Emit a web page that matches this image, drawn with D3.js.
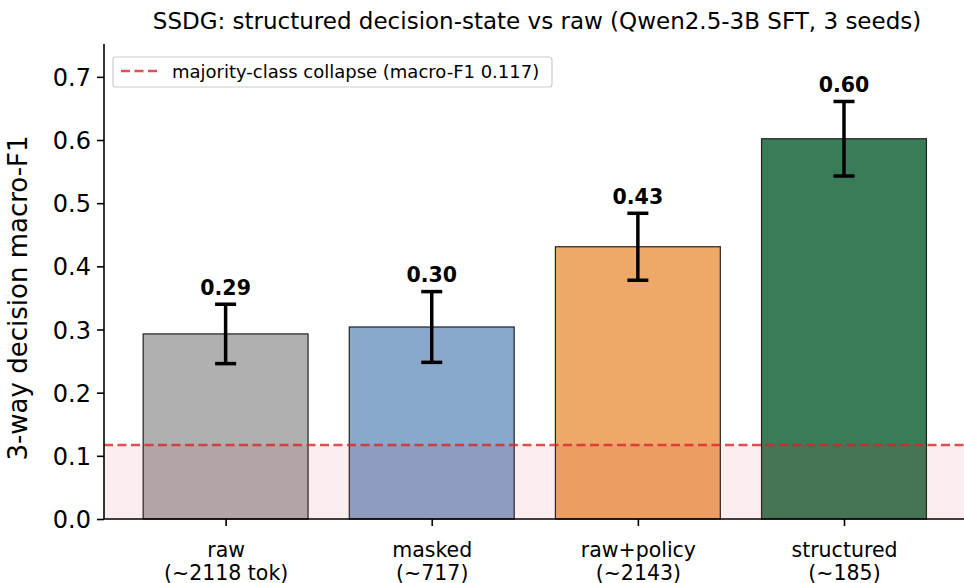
<!DOCTYPE html>
<html><head><meta charset="utf-8">
<script src="https://cdn.jsdelivr.net/npm/d3@7"></script>
<style>body{margin:0;background:#fff}svg{display:block;font-family:"DejaVu Sans",sans-serif}</style>
</head><body><svg id="c" width="964" height="583"></svg>
<script>
const categories = ["raw\n(~2118 tok)", "masked\n(~717)", "raw+policy\n(~2143)", "structured\n(~185)"];
const means = [0.293, 0.304, 0.431, 0.602];
const errs = [0.047, 0.056, 0.053, 0.059];
const barLabels = ["0.29", "0.30", "0.43", "0.60"];
const colors = ["#b0b0b0", "#88a8cc", "#eea968", "#3a7b58"];
const yTicks = [0, 0.1, 0.2, 0.3, 0.4, 0.5, 0.6, 0.7];
const collapse = 0.117;
const legendText = "majority-class collapse (macro-F1 0.117)";
const titleText = "SSDG: structured decision-state vs raw (Qwen2.5-3B SFT, 3 seeds)";
const yLabel = "3-way decision macro-F1";

const svg = d3.select("#c");
const L = 104, R = 965.6, T = 44, B = 519;
const x = d3.scaleLinear().domain([-0.59, 3.59]).range([L, R]);
const y = d3.scaleLinear().domain([0, 0.752]).range([B, T]);
const bw = x(0.4) - x(-0.4);

const g = svg.append("g");
// bars
g.selectAll("rect.bar").data(means).join("rect")
  .attr("x", (d,i) => x(i) - bw/2).attr("y", d => y(d))
  .attr("width", bw).attr("height", d => y(0) - y(d))
  .attr("fill", (d,i) => colors[i]).attr("stroke", "#222").attr("stroke-width", 1.2);
// shaded region
g.append("rect").attr("x", L).attr("y", y(collapse)).attr("width", R - L).attr("height", y(0) - y(collapse))
  .attr("fill", "#d62728").attr("fill-opacity", 0.08);
// threshold
g.append("line").attr("x1", L).attr("x2", R).attr("y1", y(collapse)).attr("y2", y(collapse))
  .attr("stroke", "#d62728").attr("stroke-opacity", 0.8).attr("stroke-width", 2.5).attr("stroke-dasharray", "9,4.5");
// error bars
const eb = g.selectAll("g.err").data(means).join("g");
eb.append("line").attr("x1", (d,i)=>x(i)).attr("x2",(d,i)=>x(i))
  .attr("y1",(d,i)=>y(d+errs[i])).attr("y2",(d,i)=>y(d-errs[i])).attr("stroke","#000").attr("stroke-width",3.5);
[1,-1].forEach(s => eb.append("line").attr("x1",(d,i)=>x(i)-10.5).attr("x2",(d,i)=>x(i)+10.5)
  .attr("y1",(d,i)=>y(d+s*errs[i])).attr("y2",(d,i)=>y(d+s*errs[i])).attr("stroke","#000").attr("stroke-width",3.5));
// value labels
g.selectAll("text.v").data(means).join("text")
  .attr("x",(d,i)=>x(i)).attr("y",(d,i)=>y(d+errs[i])-9.5)
  .attr("text-anchor","middle").attr("font-weight","bold").attr("font-size",20.5)
  .text((d,i)=>barLabels[i]);

// axes
const ya = svg.append("g").attr("transform",`translate(${L},0)`)
  .call(d3.axisLeft(y).tickValues(yTicks).tickFormat(d3.format(".1f")).tickSize(7).tickPadding(6));
ya.select(".domain").attr("stroke-width",1.6).attr("d",`M0,${T}V${B}`);
ya.selectAll(".tick line").attr("stroke-width",1.6);
ya.selectAll("text").attr("font-size",24).attr("font-family","DejaVu Sans").attr("dy","0.36em");

const xa = svg.append("g").attr("transform",`translate(0,${B})`)
  .call(d3.axisBottom(x).tickValues([0,1,2,3]).tickFormat("").tickSize(7));
xa.select(".domain").attr("stroke-width",1.6).attr("d",`M${L},0H${R}`);
xa.selectAll(".tick line").attr("stroke-width",1.6);
xa.selectAll(".tick").append("text").attr("fill","#000").attr("text-anchor","middle")
  .attr("font-size",20.5).attr("font-family","DejaVu Sans")
  .each(function(d){ const lines = categories[d].split("\n"); const t=d3.select(this);
    lines.forEach((ln,k)=>t.append("tspan").attr("x",0).attr("y",38+k*23).text(ln)); });

// y label
svg.append("text").attr("transform",`translate(27,298) rotate(-90)`)
  .attr("text-anchor","middle").attr("font-size",26).text(yLabel);
// title
svg.append("text").attr("x",537).attr("y",29).attr("text-anchor","middle").attr("font-size",23).text(titleText);

// legend
const lg = svg.append("g");
lg.append("rect").attr("x",113).attr("y",57).attr("width",439).attr("height",30).attr("rx",3)
  .attr("fill","#fff").attr("fill-opacity",0.8).attr("stroke","#ccc").attr("stroke-width",1.2);
lg.append("line").attr("x1",121).attr("x2",160).attr("y1",71).attr("y2",71)
  .attr("stroke","#d62728").attr("stroke-opacity",0.8).attr("stroke-width",2.5).attr("stroke-dasharray","9,4.5");
lg.append("text").attr("x",172).attr("y",77.5).attr("font-size",18).text(legendText);
</script></body></html>
